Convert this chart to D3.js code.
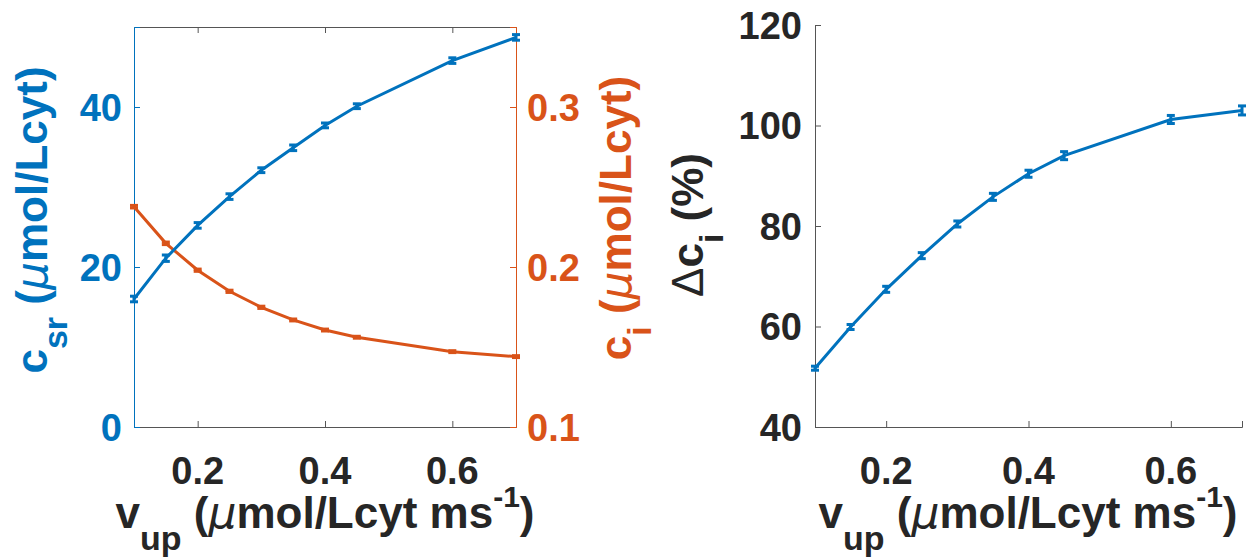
<!DOCTYPE html>
<html>
<head>
<meta charset="utf-8">
<script src="https://cdn.jsdelivr.net/npm/d3@7"></script>
<style>
  body { margin: 0; background: #fff; }
  text { font-family: "Liberation Sans", Arial, sans-serif; font-weight: bold; }
</style>
</head>
<body>
<div id="chart"></div>
<script>
// x values (v_up)
const vUp = [0.1, 0.15, 0.2, 0.25, 0.3, 0.35, 0.4, 0.45, 0.6, 0.7];

// left panel, left axis: c_sr
const cSr = [16.0, 21.1, 25.2, 28.8, 32.1, 34.9, 37.7, 40.1, 45.8, 48.7];
const cSrErr = [0.35, 0.4, 0.35, 0.35, 0.3, 0.35, 0.3, 0.3, 0.35, 0.35];

// left panel, right axis: c_i
const cI = [0.2377, 0.2148, 0.198, 0.1848, 0.1748, 0.1669, 0.1606, 0.1561, 0.1471, 0.144];
const cIErr = [0.0008, 0.0008, 0.0007, 0.0007, 0.0007, 0.0006, 0.0006, 0.0006, 0.0006, 0.0006];

// right panel: delta c_i (%)
const dCi = [51.7, 59.9, 67.4, 74.1, 80.4, 85.8, 90.4, 94.0, 101.2, 103.0];
const dCiErr = [0.4, 0.5, 0.6, 0.6, 0.6, 0.7, 0.7, 0.8, 0.8, 0.9];

const xTicks = [0.2, 0.4, 0.6];
const cSrTicks = [0, 20, 40];
const cITicks = [0.1, 0.2, 0.3];
const dCiTicks = [40, 60, 80, 100, 120];

const blue = "#0072BD", orange = "#D95319", dark = "#262626";

const svg = d3.select("#chart").append("svg")
    .attr("width", 1257)
    .attr("height", 559);

// scales
const xL = d3.scaleLinear().domain([0.1, 0.7]).range([134, 516]);
const yL = d3.scaleLinear().domain([0, 50]).range([427, 27]);
const yR = d3.scaleLinear().domain([0.1, 0.35]).range([427, 27]);
const x2 = d3.scaleLinear().domain([0.1, 0.7]).range([815, 1242]);
const y2 = d3.scaleLinear().domain([40, 120]).range([427, 25]);

// draw one axis, MATLAB style (ticks inward, labels drawn separately)
function drawAxis(g, axis, lineColor) {
    g.call(axis);
    g.select(".domain").attr("stroke", lineColor).attr("stroke-width", 1);
    g.selectAll(".tick line").attr("stroke", lineColor);
}

const fmt1 = d3.format(".1f");

// ---- left panel ----
drawAxis(svg.append("g").attr("transform", "translate(0,27)"),
    d3.axisBottom(xL).tickValues(xTicks).tickSize(6).tickFormat(""), "#555");
drawAxis(svg.append("g").attr("transform", "translate(0,427)"),
    d3.axisTop(xL).tickValues(xTicks).tickSize(6).tickFormat(""), "#555");
svg.append("g").selectAll("text").data(xTicks).join("text")
    .attr("x", d => xL(d)).attr("y", 484)
    .attr("text-anchor", "middle").attr("fill", dark)
    .style("font-size", "38px").text(fmt1);

drawAxis(svg.append("g").attr("transform", "translate(134,0)"),
    d3.axisRight(yL).tickValues(cSrTicks).tickSize(6).tickFormat(""), blue);
svg.append("g").selectAll("text").data(cSrTicks).join("text")
    .attr("x", 122).attr("y", d => yL(d)).attr("dy", "0.36em")
    .attr("text-anchor", "end").attr("fill", blue)
    .style("font-size", "38px").text(d => d);

drawAxis(svg.append("g").attr("transform", "translate(516,0)"),
    d3.axisLeft(yR).tickValues(cITicks).tickSize(6).tickFormat(""), orange);
svg.append("g").selectAll("text").data(cITicks).join("text")
    .attr("x", 527).attr("y", d => yR(d)).attr("dy", "0.36em")
    .attr("text-anchor", "start").attr("fill", orange)
    .style("font-size", "38px").text(fmt1);

// series with little error bars
function drawSeries(g, xs, ys, errs, x, y, color, capW) {
    const line = d3.line().x((d, i) => x(xs[i])).y(d => y(d));
    g.append("path").datum(ys)
        .attr("fill", "none").attr("stroke", color)
        .attr("stroke-width", 3).attr("d", line);
    const eb = g.append("g").selectAll("g").data(ys).join("g")
        .attr("stroke", color).attr("stroke-width", 3);
    eb.append("line")
        .attr("x1", (d, i) => x(xs[i])).attr("x2", (d, i) => x(xs[i]))
        .attr("y1", (d, i) => y(d - errs[i])).attr("y2", (d, i) => y(d + errs[i]));
    eb.append("line")
        .attr("x1", (d, i) => x(xs[i]) - capW).attr("x2", (d, i) => x(xs[i]) + capW)
        .attr("y1", (d, i) => y(d - errs[i])).attr("y2", (d, i) => y(d - errs[i]));
    eb.append("line")
        .attr("x1", (d, i) => x(xs[i]) - capW).attr("x2", (d, i) => x(xs[i]) + capW)
        .attr("y1", (d, i) => y(d + errs[i])).attr("y2", (d, i) => y(d + errs[i]));
}

drawSeries(svg.append("g"), vUp, cI, cIErr, xL, yR, orange, 4);
drawSeries(svg.append("g"), vUp, cSr, cSrErr, xL, yL, blue, 4);

// ---- right panel ----
drawAxis(svg.append("g").attr("transform", "translate(0,427)"),
    d3.axisTop(x2).tickValues(xTicks).tickSize(6).tickFormat(""), "#555");
svg.append("g").selectAll("text").data(xTicks).join("text")
    .attr("x", d => x2(d)).attr("y", 484)
    .attr("text-anchor", "middle").attr("fill", dark)
    .style("font-size", "38px").text(fmt1);

drawAxis(svg.append("g").attr("transform", "translate(815,0)"),
    d3.axisRight(y2).tickValues(dCiTicks).tickSize(6).tickFormat(""), "#555");
svg.append("g").selectAll("text").data(dCiTicks).join("text")
    .attr("x", 802).attr("y", d => y2(d)).attr("dy", "0.36em")
    .attr("text-anchor", "end").attr("fill", dark)
    .style("font-size", "38px").text(d => d);

drawSeries(svg.append("g"), vUp, dCi, dCiErr, x2, y2, blue, 4);

// ---- axis titles ----
function muSpan(t) {
    t.append("tspan").text("\u03bc")
        .style("font-style", "italic").style("font-weight", "normal")
        .style("font-family", "'DejaVu Sans', sans-serif");
}

function xTitle(cx) {
    const t = svg.append("text")
        .attr("x", cx).attr("y", 528)
        .attr("text-anchor", "middle").attr("fill", dark)
        .style("font-size", "44px");
    t.append("tspan").text("v");
    t.append("tspan").text("up").attr("baseline-shift", "-0.65em").style("font-size", "34px");
    t.append("tspan").text(" (");
    muSpan(t);
    t.append("tspan").text("mol/Lcyt ms");
    t.append("tspan").text("-1").attr("baseline-shift", "0.7em").style("font-size", "30px");
    t.append("tspan").text(")");
}
xTitle(325);
xTitle(1028);

function yTitle(x, cy, color, pre, main, sub, rest, withMu) {
    const t = svg.append("text")
        .attr("transform", `translate(${x},${cy}) rotate(-90)`)
        .attr("text-anchor", "middle").attr("fill", color)
        .style("font-size", "44px");
    if (pre) t.append("tspan").text(pre).style("font-weight", "normal");
    t.append("tspan").text(main);
    t.append("tspan").text(sub).attr("baseline-shift", "-0.6em").style("font-size", "34px");
    if (withMu) {
        t.append("tspan").text(" (");
        muSpan(t);
    }
    t.append("tspan").text(rest);
}
yTitle(47, 220, blue, null, "c", "sr", "mol/Lcyt)", true);
yTitle(631, 218, orange, null, "c", "i", "mol/Lcyt)", true);
yTitle(703, 225, dark, "\u0394", "c", "i", " (%)", false);
</script>
</body>
</html>
